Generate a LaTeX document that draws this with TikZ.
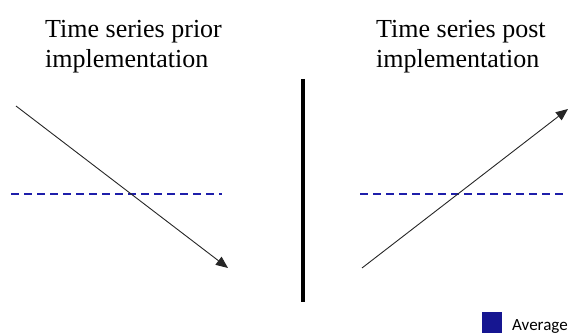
\documentclass[tikz,border=0pt]{standalone}
\usepackage{fontspec}
\setmainfont{Liberation Serif}
\newfontfamily\legendfont{Carlito}
\usetikzlibrary{arrows.meta}

\definecolor{avgblue}{RGB}{30,30,170}
\definecolor{avgfill}{RGB}{22,22,145}

\tikzset{
  heading/.style={anchor=north west, inner sep=0pt, align=left,
    font=\fontsize{26}{30}\selectfont},
  trend/.style={draw=black!85, line width=0.9pt,
    -{Triangle[length=12pt,width=10pt]}},
  avgline/.style={draw=avgblue, line width=1.2pt, dash pattern=on 8pt off 5pt},
  divider/.style={draw=black, line width=4pt},
}

\begin{document}
\begin{tikzpicture}[x=1pt, y=-1pt]
  \useasboundingbox (0,0) rectangle (569,334);

  % headings
  \node[heading] (hprior) at (45,20.5) {Time series prior\\implementation};
  \node[heading] (hpost) at (376,20.5) {Time series post\\implementation};

  % separator between the two panels
  \coordinate (sepTop) at (302.5,79);
  \coordinate (sepBot) at (302.5,302);
  \draw[divider] (sepTop) -- (sepBot);

  % left panel: average and falling trend
  \coordinate (avgLa) at (11,194);
  \coordinate (avgLb) at (222,194);
  \draw[avgline] (avgLa) -- (avgLb);
  \coordinate (trLa) at (16,106);
  \coordinate (trLb) at (228,268);
  \draw[trend] (trLa) -- (trLb);

  % right panel: average and rising trend
  \coordinate (avgRa) at (360,194);
  \coordinate (avgRb) at (564,194);
  \draw[avgline] (avgRa) -- (avgRb);
  \coordinate (trRa) at (362,268);
  \coordinate (trRb) at (568,109);
  \draw[trend] (trRa) -- (trRb);

  % legend
  \node[fill=avgfill, minimum width=20pt, minimum height=21pt, inner sep=0pt,
        anchor=north west] (key) at (482,312) {};
  \node[anchor=base west, inner sep=0pt, font=\legendfont\fontsize{17}{18}\selectfont]
        (keytext) at (512,330) {Average};
\end{tikzpicture}
\end{document}
